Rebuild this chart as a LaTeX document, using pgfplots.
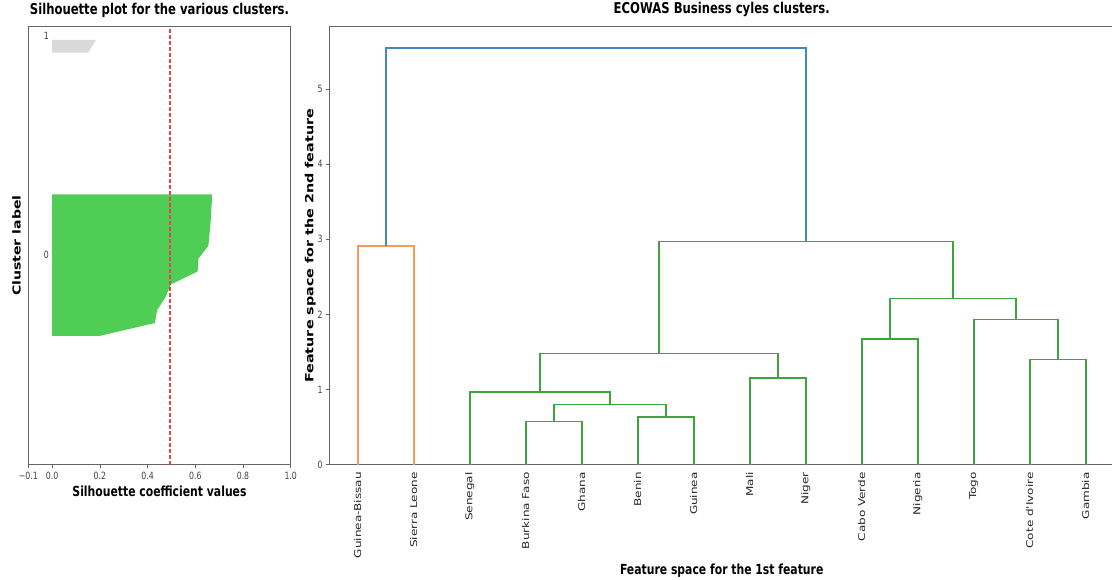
\documentclass[border=0pt]{standalone}
\usepackage{fontspec}
\setmainfont{DejaVu Sans}
\newfontfamily\hfont[FakeStretch=0.78]{DejaVu Sans}
\newfontfamily\vfont[FakeStretch=1.28]{DejaVu Sans}
\usepackage{pgfplots}
\pgfplotsset{compat=1.18}
\definecolor{axgray}{RGB}{100,100,100}
\definecolor{silgreen}{RGB}{80,205,85}
\definecolor{silgray}{RGB}{217,217,217}
\definecolor{avgred}{RGB}{228,70,75}
\definecolor{dblue}{RGB}{70,135,190}
\definecolor{dorange}{RGB}{245,155,90}
\definecolor{dgreen}{RGB}{60,165,60}
\begin{document}
\begin{tikzpicture}
\path[use as bounding box] (0pt,0pt) rectangle (1112pt,580pt);
% ---------------- Silhouette plot ----------------
\begin{axis}[
  at={(28.3pt,115.4pt)}, anchor=south west,
  width=262.4pt, height=437.7pt, scale only axis,
  xmin=-0.1, xmax=1.0, ymin=0, ymax=34,
  xtick={-0.1,0,0.2,0.4,0.6,0.8,1.0},
  xticklabels={−0.1,0.0,0.2,0.4,0.6,0.8,1.0},
  ytick=\empty, xtick pos=lower,
  tick align=outside, major tick length=3.5pt,
  axis line style={draw=axgray, line width=0.8pt},
  every tick/.style={axgray, line width=0.6pt},
  /pgf/number format/assume math mode=true,
  ticklabel style={font=\hfont\fontsize{10}{12}\selectfont, text=black!75},
  title={Silhouette plot for the various clusters.},
  title style={font=\hfont\bfseries\fontsize{14.9}{17}\selectfont, anchor=base, at={(axis description cs:0.5,1.0151)}},
  xlabel={Silhouette coefficient values},
  xlabel style={font=\hfont\bfseries\fontsize{13.9}{16}\selectfont, anchor=base, at={(axis description cs:0.5,-0.0731)}},
  ylabel={Cluster label},
  ylabel style={font=\vfont\bfseries\fontsize{11}{13}\selectfont, anchor=base, at={(axis description cs:-0.029,0.5)}},
]
\addplot[fill=silgreen, draw=none] coordinates {
  (0,10) (0.2,10) (0.431,11) (0.44,12) (0.475,13) (0.498,14) (0.61,15)
  (0.613,16) (0.655,17) (0.66,18) (0.665,19) (0.668,20) (0.671,21) (0,21)
} -- cycle;
\addplot[fill=silgray, draw=none] coordinates {
  (0,32) (0.151,32) (0.184,33) (0,33)
} -- cycle;
\addplot[avgred, line width=1.1pt, dash pattern=on 4pt off 2pt] coordinates {(0.494,0) (0.494,34)};
\node[anchor=base west, font=\hfont\fontsize{10}{12}\selectfont, text=black!75] at (axis cs:-0.05,16) {0};
\node[anchor=base west, font=\hfont\fontsize{10}{12}\selectfont, text=black!75] at (axis cs:-0.05,33) {1};
\end{axis}
% ---------------- Dendrogram ----------------
\begin{axis}[
  at={(329.7pt,115.4pt)}, anchor=south west,
  width=784pt, height=437.7pt, scale only axis,
  xmin=0, xmax=140, ymin=0, ymax=5.83,
  xtick={5,15,...,135},
  xticklabels={Guinea-Bissau,Sierra Leone,Senegal,Burkina Faso,Ghana,Benin,Guinea,Mali,Niger,Cabo Verde,Nigeria,Togo,Cote d'Ivoire,Gambia},
  xticklabel style={rotate=90, anchor=east, inner sep=0pt, font=\vfont\fontsize{9.4}{11}\selectfont, text=black!85},
  xtick style={draw=none},
  xticklabel shift=4pt,
  ytick={0,1,2,3,4,5}, ytick pos=left,
  /pgf/number format/assume math mode=true,
  yticklabel style={font=\hfont\fontsize{10}{12}\selectfont, text=black!75},
  tick align=outside, major tick length=3.5pt,
  axis line style={draw=axgray, line width=0.8pt},
  every tick/.style={axgray, line width=0.6pt},
  title={ECOWAS Business cyles clusters.},
  title style={font=\hfont\bfseries\fontsize{14.9}{17}\selectfont, anchor=base, at={(axis description cs:0.5,1.0169)}},
  xlabel={Feature space for the 1st feature},
  xlabel style={font=\hfont\bfseries\fontsize{13.9}{16}\selectfont, anchor=base, at={(axis description cs:0.5,-0.2514)}},
  ylabel={Feature space for the 2nd feature},
  ylabel style={font=\vfont\bfseries\fontsize{11.2}{14}\selectfont, anchor=base, at={(axis description cs:-0.0207,0.5)}},
  every axis plot/.append style={line width=1.6pt},
]
\addplot[dorange] coordinates {(5,0) (5,2.911) (15,2.911) (15,0)};
\addplot[dgreen] coordinates {(35,0) (35,0.573) (45,0.573) (45,0)};
\addplot[dgreen] coordinates {(55,0) (55,0.634) (65,0.634) (65,0)};
\addplot[dgreen] coordinates {(40,0.573) (40,0.799) (60,0.799) (60,0.634)};
\addplot[dgreen] coordinates {(25,0) (25,0.967) (50,0.967) (50,0.799)};
\addplot[dgreen] coordinates {(75,0) (75,1.153) (85,1.153) (85,0)};
\addplot[dgreen] coordinates {(37.5,0.967) (37.5,1.478) (80,1.478) (80,1.153)};
\addplot[dgreen] coordinates {(95,0) (95,1.673) (105,1.673) (105,0)};
\addplot[dgreen] coordinates {(125,0) (125,1.398) (135,1.398) (135,0)};
\addplot[dgreen] coordinates {(115,0) (115,1.935) (130,1.935) (130,1.398)};
\addplot[dgreen] coordinates {(100,1.673) (100,2.214) (122.5,2.214) (122.5,1.935)};
\addplot[dgreen] coordinates {(58.75,1.478) (58.75,2.973) (111.25,2.973) (111.25,2.214)};
\addplot[dblue] coordinates {(10,2.911) (10,5.547) (85,5.547) (85,2.973)};
\end{axis}
\end{tikzpicture}
\end{document}
